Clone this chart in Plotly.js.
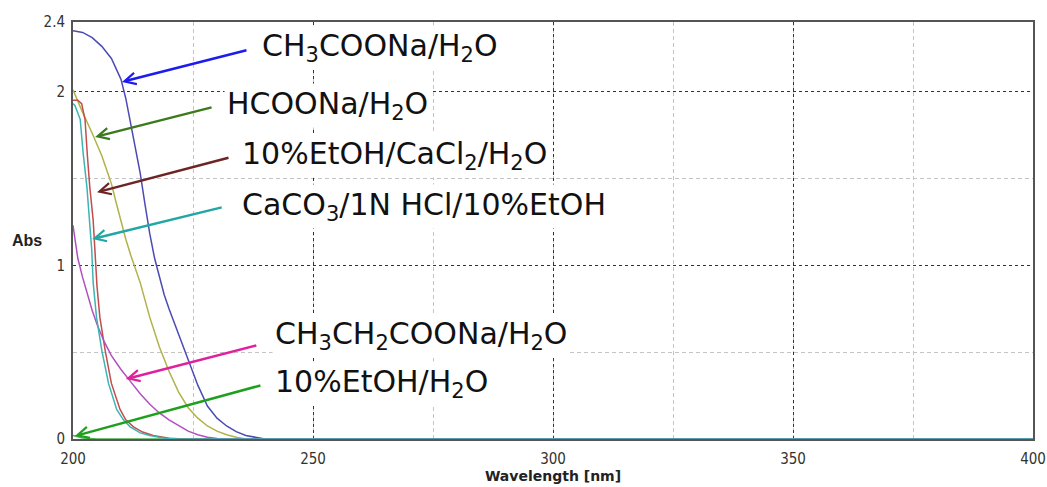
<!DOCTYPE html>
<html>
<head>
<meta charset="utf-8">
<script src="https://cdn.plot.ly/plotly-3.0.1.min.js"></script>
<style>html,body{margin:0;padding:0;background:#fff;}#chart{width:1047px;height:487px;}</style>
</head>
<body>
<div id="chart"></div>
<script>
// ---- Data ----
const seriesNames = [
  "10%EtOH/H<sub>2</sub>O",
  "CH<sub>3</sub>COONa/H<sub>2</sub>O",
  "HCOONa/H<sub>2</sub>O",
  "10%EtOH/CaCl<sub>2</sub>/H<sub>2</sub>O",
  "CH<sub>3</sub>CH<sub>2</sub>COONa/H<sub>2</sub>O",
  "CaCO<sub>3</sub>/1N HCl/10%EtOH"
];

const wlEtOH = [200, 201, 202, 205, 400];
const absEtOH = [0.02, 0.012, 0.006, 0, 0];

const wlAcetate = [200, 202, 204, 206, 208, 210, 211, 212, 213, 214, 215, 216, 217, 218, 219, 220, 222, 224, 226, 228, 230, 232, 234, 236, 238, 240, 400];
const absAcetate = [2.35, 2.34, 2.31, 2.26, 2.19, 2.07, 1.96, 1.82, 1.67, 1.53, 1.35, 1.18, 1.04, 0.93, 0.83, 0.75, 0.60, 0.46, 0.31, 0.19, 0.12, 0.075, 0.042, 0.02, 0.008, 0, 0];

const wlFormate = [200, 201, 202, 204, 206, 207, 208, 209, 210, 211, 212, 214, 216, 218, 220, 222, 224, 226, 228, 230, 232, 234, 236, 400];
const absFormate = [2.01, 1.94, 1.88, 1.76, 1.63, 1.55, 1.47, 1.36, 1.25, 1.15, 1.06, 0.90, 0.70, 0.53, 0.39, 0.27, 0.18, 0.12, 0.075, 0.045, 0.025, 0.01, 0, 0];

const wlCaCl2 = [200, 201, 201.8, 202.5, 203, 203.5, 204.2, 204.6, 205, 205.6, 206.7, 208, 209.8, 211, 212.6, 214.5, 216.7, 220, 223, 400];
const absCaCl2 = [1.95, 1.95, 1.93, 1.84, 1.63, 1.45, 1.26, 1.09, 0.88, 0.70, 0.51, 0.32, 0.17, 0.11, 0.07, 0.04, 0.02, 0.005, 0, 0];

const wlPropionate = [200, 200.5, 201, 202, 203, 204, 205, 206.5, 208, 210, 212, 214, 216, 218, 220, 222, 224, 226, 228, 230, 232, 400];
const absPropionate = [1.23, 1.12, 1.04, 0.93, 0.83, 0.74, 0.66, 0.56, 0.48, 0.40, 0.33, 0.26, 0.20, 0.15, 0.11, 0.075, 0.045, 0.025, 0.01, 0.003, 0, 0];

const wlCaCO3 = [200, 200.4, 201.5, 202.1, 202.9, 203.5, 203.9, 204.2, 204.9, 206, 207.4, 209.1, 210.5, 211.9, 214, 216, 219, 222, 400];
const absCaCO3 = [1.93, 1.92, 1.84, 1.65, 1.45, 1.26, 1.09, 0.90, 0.70, 0.51, 0.32, 0.17, 0.11, 0.07, 0.035, 0.02, 0.005, 0, 0];

const xTickVals = [200, 250, 300, 350, 400];
const yTickVals = [0, 1, 2, 2.4];
const yTickText = ["0", "1", "2", "2.4"];

// arrow targets (wavelength, absorbance the arrow points at)
const arrowTargetX = [200.4, 210.2, 204.6, 205.0, 211.0, 204.0];
const arrowTargetY = [0.017, 2.055, 1.738, 1.42, 0.345, 1.151];

// ---- Styles / placement ----
const lineColors = ["#4fb04f", "#4b4bb5", "#b2b24a", "#c24d4d", "#b050c0", "#3fb3b3"];
const arrowColors = ["#1ea01e", "#1c1cf0", "#3c7a1e", "#6e2424", "#e0209c", "#22a6a6"];
const arrowOffsets = [[187, -51], [126, -32], [118, -30], [133, -35], [132, -34], [131, -32]];
const labelPos = [[241.4, 0.322], [238.7, 2.256], [231.5, 1.917], [234.6, 1.629], [241.4, 0.596], [234.6, 1.341]];

const xs = [wlEtOH, wlAcetate, wlFormate, wlCaCl2, wlPropionate, wlCaCO3];
const ys = [absEtOH, absAcetate, absFormate, absCaCl2, absPropionate, absCaCO3];

const traces = xs.map((x, i) => ({
  type: "scatter",
  mode: "lines",
  x: x,
  y: ys[i],
  name: seriesNames[i],
  line: {color: lineColors[i], width: 1.5},
  hoverinfo: "skip",
  showlegend: false
}));

const annotations = [];
labelPos.forEach((p, i) => {
  annotations.push({
    x: p[0], y: p[1], xref: "x", yref: "y",
    text: seriesNames[i],
    showarrow: false,
    xanchor: "left", yanchor: "middle",
    bgcolor: "#ffffff", borderpad: 2,
    font: {family: "DejaVu Sans, Verdana, sans-serif", size: 30, color: "#111111"}
  });
});
arrowTargetX.forEach((x, i) => {
  annotations.push({
    x: x, y: arrowTargetY[i], xref: "x", yref: "y",
    text: "",
    showarrow: true,
    ax: arrowOffsets[i][0], ay: arrowOffsets[i][1],
    arrowhead: 5, arrowsize: 0.9, arrowwidth: 2.5,
    arrowcolor: arrowColors[i]
  });
});
annotations.push({
  xref: "paper", yref: "paper", x: -0.048, y: 0.477,
  text: "<b>Abs</b>", showarrow: false, xanchor: "center", yanchor: "middle",
  font: {family: "Liberation Sans, Arial, sans-serif", size: 16, color: "#222222"}
});

const layout = {
  width: 1047, height: 487,
  margin: {l: 73, r: 14, t: 22, b: 48, pad: 0},
  paper_bgcolor: "#ffffff", plot_bgcolor: "#ffffff",
  showlegend: false,
  xaxis: {
    range: [200, 400], tickvals: xTickVals, ticks: "",
    ticklabelstandoff: 5,
    showgrid: true, gridcolor: "#333333", griddash: "3px,3px", gridwidth: 1,
    minor: {dtick: 25, tick0: 200, showgrid: true, gridcolor: "#c4c4c4", griddash: "4px,3px", gridwidth: 1, ticks: ""},
    showline: true, linecolor: "#555555", linewidth: 2, mirror: true,
    zeroline: false,
    tickfont: {family: "Liberation Sans Narrow, DejaVu Sans Condensed, sans-serif", size: 15, color: "#333333"},
    title: {text: "<b>Wavelength [nm]</b>", standoff: 4,
      font: {family: "DejaVu Sans, sans-serif", size: 14, color: "#222222"}}
  },
  yaxis: {
    range: [0, 2.4], tickvals: yTickVals, ticktext: yTickText, ticks: "",
    ticklabelstandoff: 3,
    showgrid: true, gridcolor: "#333333", griddash: "3px,3px", gridwidth: 1,
    minor: {tickvals: [0.5, 1.5], showgrid: true, gridcolor: "#c4c4c4", griddash: "4px,3px", gridwidth: 1, ticks: ""},
    showline: true, linecolor: "#555555", linewidth: 2, mirror: true,
    zeroline: false,
    tickfont: {family: "Liberation Sans Narrow, DejaVu Sans Condensed, sans-serif", size: 15, color: "#333333"}
  },
  annotations: annotations
};

Plotly.newPlot("chart", traces, layout, {staticPlot: true, displayModeBar: false});
</script>
</body>
</html>
